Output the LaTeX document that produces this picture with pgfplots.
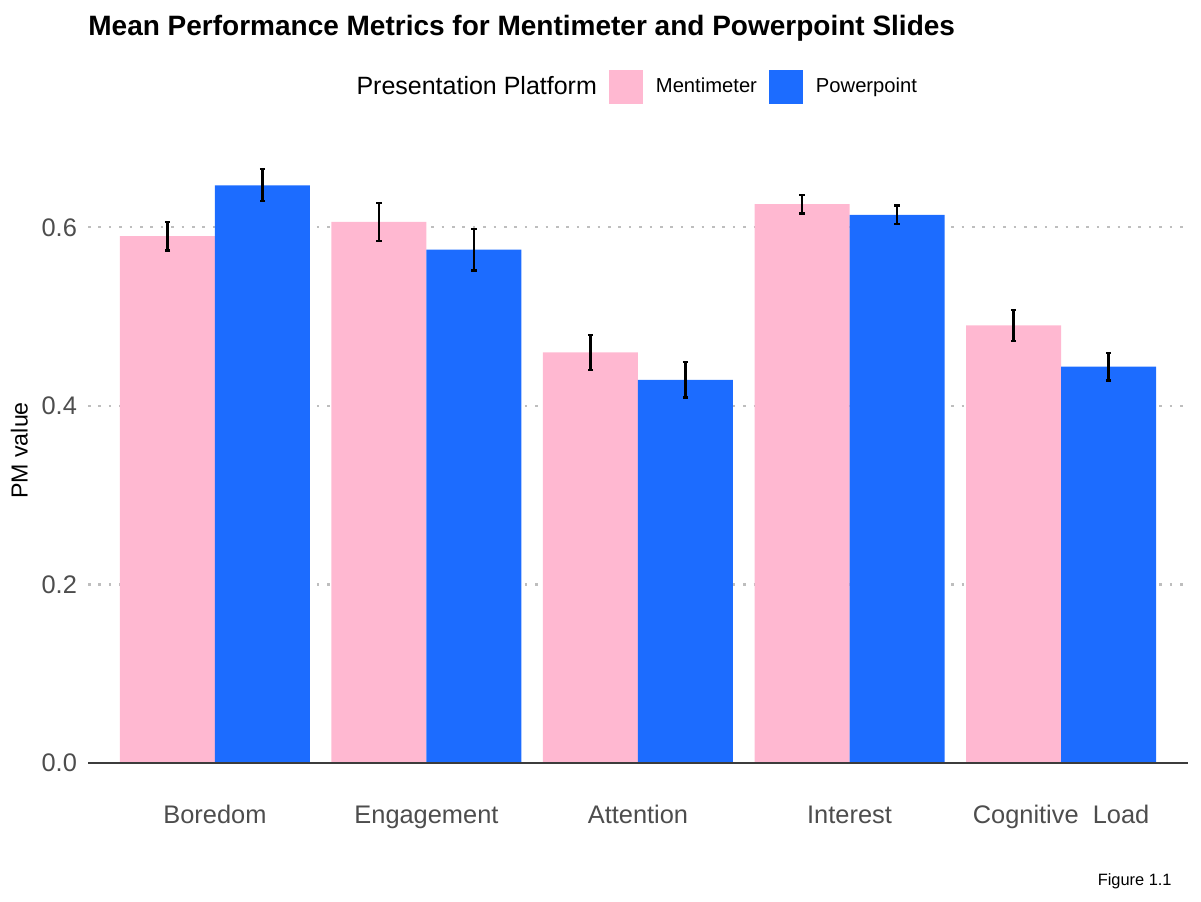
\documentclass[border=0pt]{standalone}
\usepackage{fontspec}
\setmainfont{Liberation Sans}
\usepackage{pgfplots}
\pgfplotsset{compat=1.18}
\definecolor{mentipink}{RGB}{255,184,209}
\definecolor{pptblue}{RGB}{28,108,255}
\definecolor{ticktext}{RGB}{77,77,77}
\definecolor{gridgray}{RGB}{190,190,190}
\definecolor{axisline}{RGB}{60,60,60}

\begin{document}
\begin{tikzpicture}
\useasboundingbox (0,0) rectangle (600.5pt,450.5pt);
\begin{axis}[
    at={(44pt,69pt)}, anchor=south west,
    scale only axis,
    width=550pt, height=312.5pt,
    ybar=0pt, bar width=47.5pt,
    xmin=0.4, xmax=5.6,
    ymin=0, ymax=0.7,
    xtick={1,2,3,4,5},
    xticklabels={Boredom, Engagement, Attention, Interest, Cognitive\ \ Load},
    ytick={0,0.2,0.4,0.6},
    /pgf/number format/assume math mode=true,
    y tick label style={/pgf/number format/fixed, /pgf/number format/fixed zerofill, /pgf/number format/precision=1},
    axis line style={draw=none},
    major tick length=0pt,
    ymajorgrids,
    major grid style={gridgray, line width=1.15pt, dash pattern=on 1.3pt off 3.9pt},
    tick label style={text=ticktext, font=\fontsize{12.7}{14}\selectfont},
    xticklabel style={yshift=-17.5pt, text height=9.3pt, text depth=2.7pt},
    yticklabel style={xshift=-2pt},
    ylabel={PM value},
    ylabel style={font=\fontsize{11.6}{13}\selectfont, text=black},
    legend columns=-1,
    legend style={draw=none, fill=none, at={(axis description cs:0.2265,1.0816)}, anchor=west,
        font=\fontsize{10.1}{12}\selectfont,
        /tikz/every odd column/.append style={column sep=4.5pt},
        /tikz/every even column/.append style={column sep=4pt}},
]
\addlegendimage{empty legend}
\addlegendentry{\fontsize{12.5}{14}\selectfont Presentation Platform}
\addplot[fill=mentipink, draw=none,
    legend image code/.code={\fill[mentipink] (0pt,-8.5pt) rectangle (17pt,8.5pt);},
    error bars/.cd, y dir=both, y explicit,
    error bar style={line width=1.1pt, black},
    error mark options={rotate=90, mark size=1.3pt, line width=1.1pt, black}]
coordinates {
    (1,0.590) +- (0,0.016)
    (2,0.606) +- (0,0.021)
    (3,0.460) +- (0,0.0196)
    (4,0.626) +- (0,0.0105)
    (5,0.490) +- (0,0.0175)
};
\addlegendentry{Mentimeter}
\addplot[fill=pptblue, draw=none,
    legend image code/.code={\fill[pptblue] (0pt,-8.5pt) rectangle (17pt,8.5pt);},
    error bars/.cd, y dir=both, y explicit,
    error bar style={line width=1.1pt, black},
    error mark options={rotate=90, mark size=1.3pt, line width=1.1pt, black}]
coordinates {
    (1,0.647) +- (0,0.018)
    (2,0.575) +- (0,0.0235)
    (3,0.429) +- (0,0.0197)
    (4,0.614) +- (0,0.0103)
    (5,0.444) +- (0,0.0155)
};
\addlegendentry{Powerpoint}
\draw[axisline, line width=1.2pt] (rel axis cs:0,0) -- (rel axis cs:1,0);
\end{axis}
\node[anchor=base west, font=\fontsize{14}{16}\selectfont\bfseries, inner sep=0pt] at (44pt,432.5pt)
    {Mean Performance Metrics for Mentimeter and Powerpoint Slides};
\node[anchor=base east, font=\fontsize{8.2}{10}\selectfont, inner sep=0pt] at (586pt,8pt) {Figure 1.1};
\end{tikzpicture}
\end{document}
